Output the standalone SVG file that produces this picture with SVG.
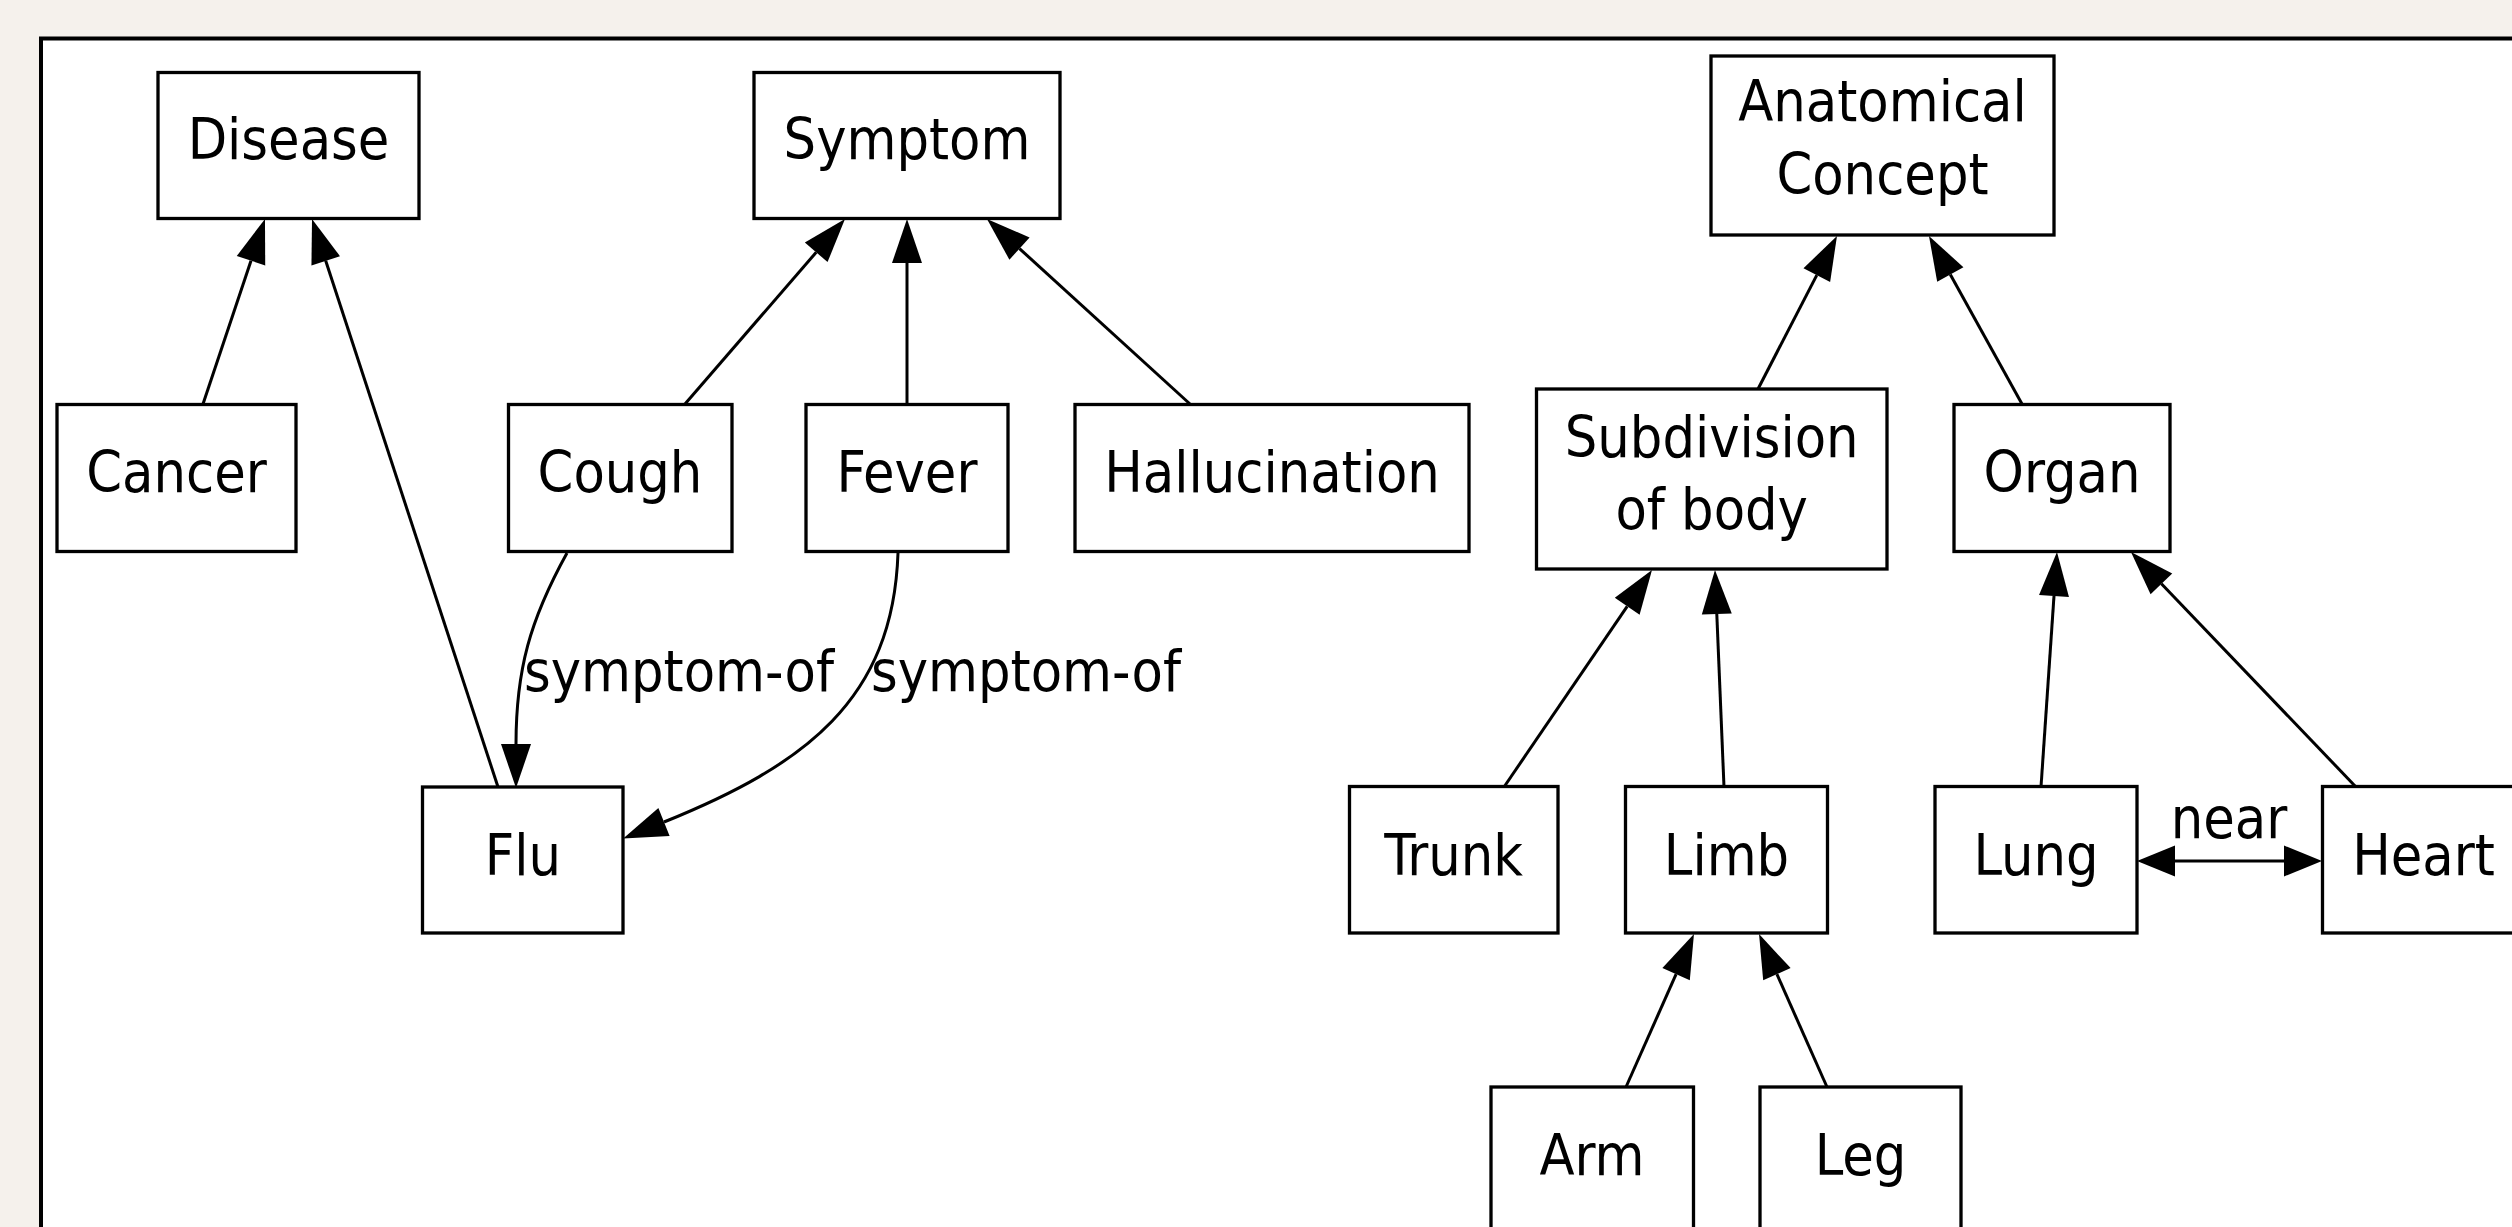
<svg xmlns="http://www.w3.org/2000/svg" width="2512" height="1227" viewBox="0 0 2512 1227">
<style>
.n{fill:#fff;stroke:#000;stroke-width:3.3}
.t{font-family:"DejaVu Sans Condensed","DejaVu Sans",sans-serif;font-size:57px;fill:#000;text-anchor:middle}
.e{fill:none;stroke:#000;stroke-width:3}
</style>
<defs>
<marker id="ah" markerUnits="userSpaceOnUse" markerWidth="44" markerHeight="30" viewBox="0 0 44 30" refX="0" refY="15" orient="auto" overflow="visible"><path d="M0,0 L44,15 L0,30 z" fill="#000"/></marker>
<marker id="ahn" markerUnits="userSpaceOnUse" markerWidth="38" markerHeight="31" viewBox="0 0 38 31" refX="0" refY="15.5" orient="auto-start-reverse" overflow="visible"><path d="M0,0 L38,15.5 L0,31 z" fill="#000"/></marker>
</defs>
<rect x="0" y="0" width="2512" height="1227" fill="#f5f1ec"/>
<rect x="41" y="38.5" width="2600" height="1300" fill="#fff" stroke="#000" stroke-width="4"/>

<g id="connectors">
<line class="e" x1="203" y1="404" x2="251" y2="260.7" marker-end="url(#ah)"/>
<line class="e" x1="498" y1="787" x2="325.7" y2="260.8" marker-end="url(#ah)"/>
<line class="e" x1="685" y1="404" x2="816.2" y2="252.3" marker-end="url(#ah)"/>
<line class="e" x1="907" y1="404" x2="907" y2="263" marker-end="url(#ah)"/>
<line class="e" x1="1190" y1="404" x2="1019.5" y2="248.6" marker-end="url(#ah)"/>
<line class="e" x1="1758" y1="389" x2="1816.8" y2="275.1" marker-end="url(#ah)"/>
<line class="e" x1="2022" y1="404" x2="1950.3" y2="274.5" marker-end="url(#ah)"/>
<line class="e" x1="1504" y1="787" x2="1627.2" y2="606.3" marker-end="url(#ah)"/>
<line class="e" x1="1724" y1="787" x2="1716.8" y2="614" marker-end="url(#ah)"/>
<line class="e" x1="1626" y1="1087" x2="1676.1" y2="974.2" marker-end="url(#ah)"/>
<line class="e" x1="1827" y1="1087" x2="1776.9" y2="974.2" marker-end="url(#ah)"/>
<line class="e" x1="2041" y1="787" x2="2054" y2="595.9" marker-end="url(#ah)"/>
<line class="e" x1="2356" y1="787" x2="2161.4" y2="583.8" marker-end="url(#ah)"/>
<path class="e" d="M567,553 C530,620 516,670 516,744" marker-end="url(#ah)"/>
<path class="e" d="M898,553 C893,700 805,765 664,822" marker-end="url(#ah)"/>
<line class="e" x1="2175" y1="861" x2="2284" y2="861" marker-start="url(#ahn)" marker-end="url(#ahn)"/>
<text class="t" x="679" y="691">symptom-of</text>
<text class="t" x="1026" y="691">symptom-of</text>
<text class="t" x="2229" y="838">near</text>
</g>

<g id="disease"><rect class="n" x="158" y="72.5" width="261" height="146"/><text class="t" x="288.5" y="159">Disease</text></g>
<g id="symptom"><rect class="n" x="754" y="72.5" width="306" height="146"/><text class="t" x="907" y="159">Symptom</text></g>
<g id="anatomical"><rect class="n" x="1711" y="56" width="343" height="179"/><text class="t" x="1882.5" y="121">Anatomical</text><text class="t" x="1882.5" y="194">Concept</text></g>
<g id="cancer"><rect class="n" x="57" y="404.5" width="239" height="147"/><text class="t" x="176.5" y="492">Cancer</text></g>
<g id="cough"><rect class="n" x="508.5" y="404.5" width="223.5" height="147"/><text class="t" x="620" y="492">Cough</text></g>
<g id="fever"><rect class="n" x="806" y="404.5" width="202" height="147"/><text class="t" x="907" y="492">Fever</text></g>
<g id="hallucination"><rect class="n" x="1075" y="404.5" width="394" height="147"/><text class="t" x="1272" y="492">Hallucination</text></g>
<g id="subdivision"><rect class="n" x="1536.5" y="389" width="350.5" height="180"/><text class="t" x="1711.7" y="457">Subdivision</text><text class="t" x="1711.7" y="529">of body</text></g>
<g id="organ"><rect class="n" x="1954" y="404.5" width="216" height="147"/><text class="t" x="2062" y="492">Organ</text></g>
<g id="flu"><rect class="n" x="422.5" y="787" width="200.5" height="146"/><text class="t" x="522.8" y="874.5">Flu</text></g>
<g id="trunk"><rect class="n" x="1349.5" y="786.5" width="208.5" height="146.5"/><text class="t" x="1453.7" y="874.5">Trunk</text></g>
<g id="limb"><rect class="n" x="1625.5" y="786.5" width="202" height="146.5"/><text class="t" x="1726.5" y="874.5">Limb</text></g>
<g id="lung"><rect class="n" x="1935" y="786.5" width="202" height="146.5"/><text class="t" x="2036" y="874.5">Lung</text></g>
<g id="heart"><rect class="n" x="2322.5" y="786.5" width="202" height="146.5"/><text class="t" x="2423.5" y="874.5">Heart</text></g>
<g id="arm"><rect class="n" x="1491" y="1087" width="202.5" height="146"/><text class="t" x="1592" y="1175">Arm</text></g>
<g id="leg"><rect class="n" x="1760" y="1087" width="201" height="146"/><text class="t" x="1860.5" y="1175">Leg</text></g>
</svg>
